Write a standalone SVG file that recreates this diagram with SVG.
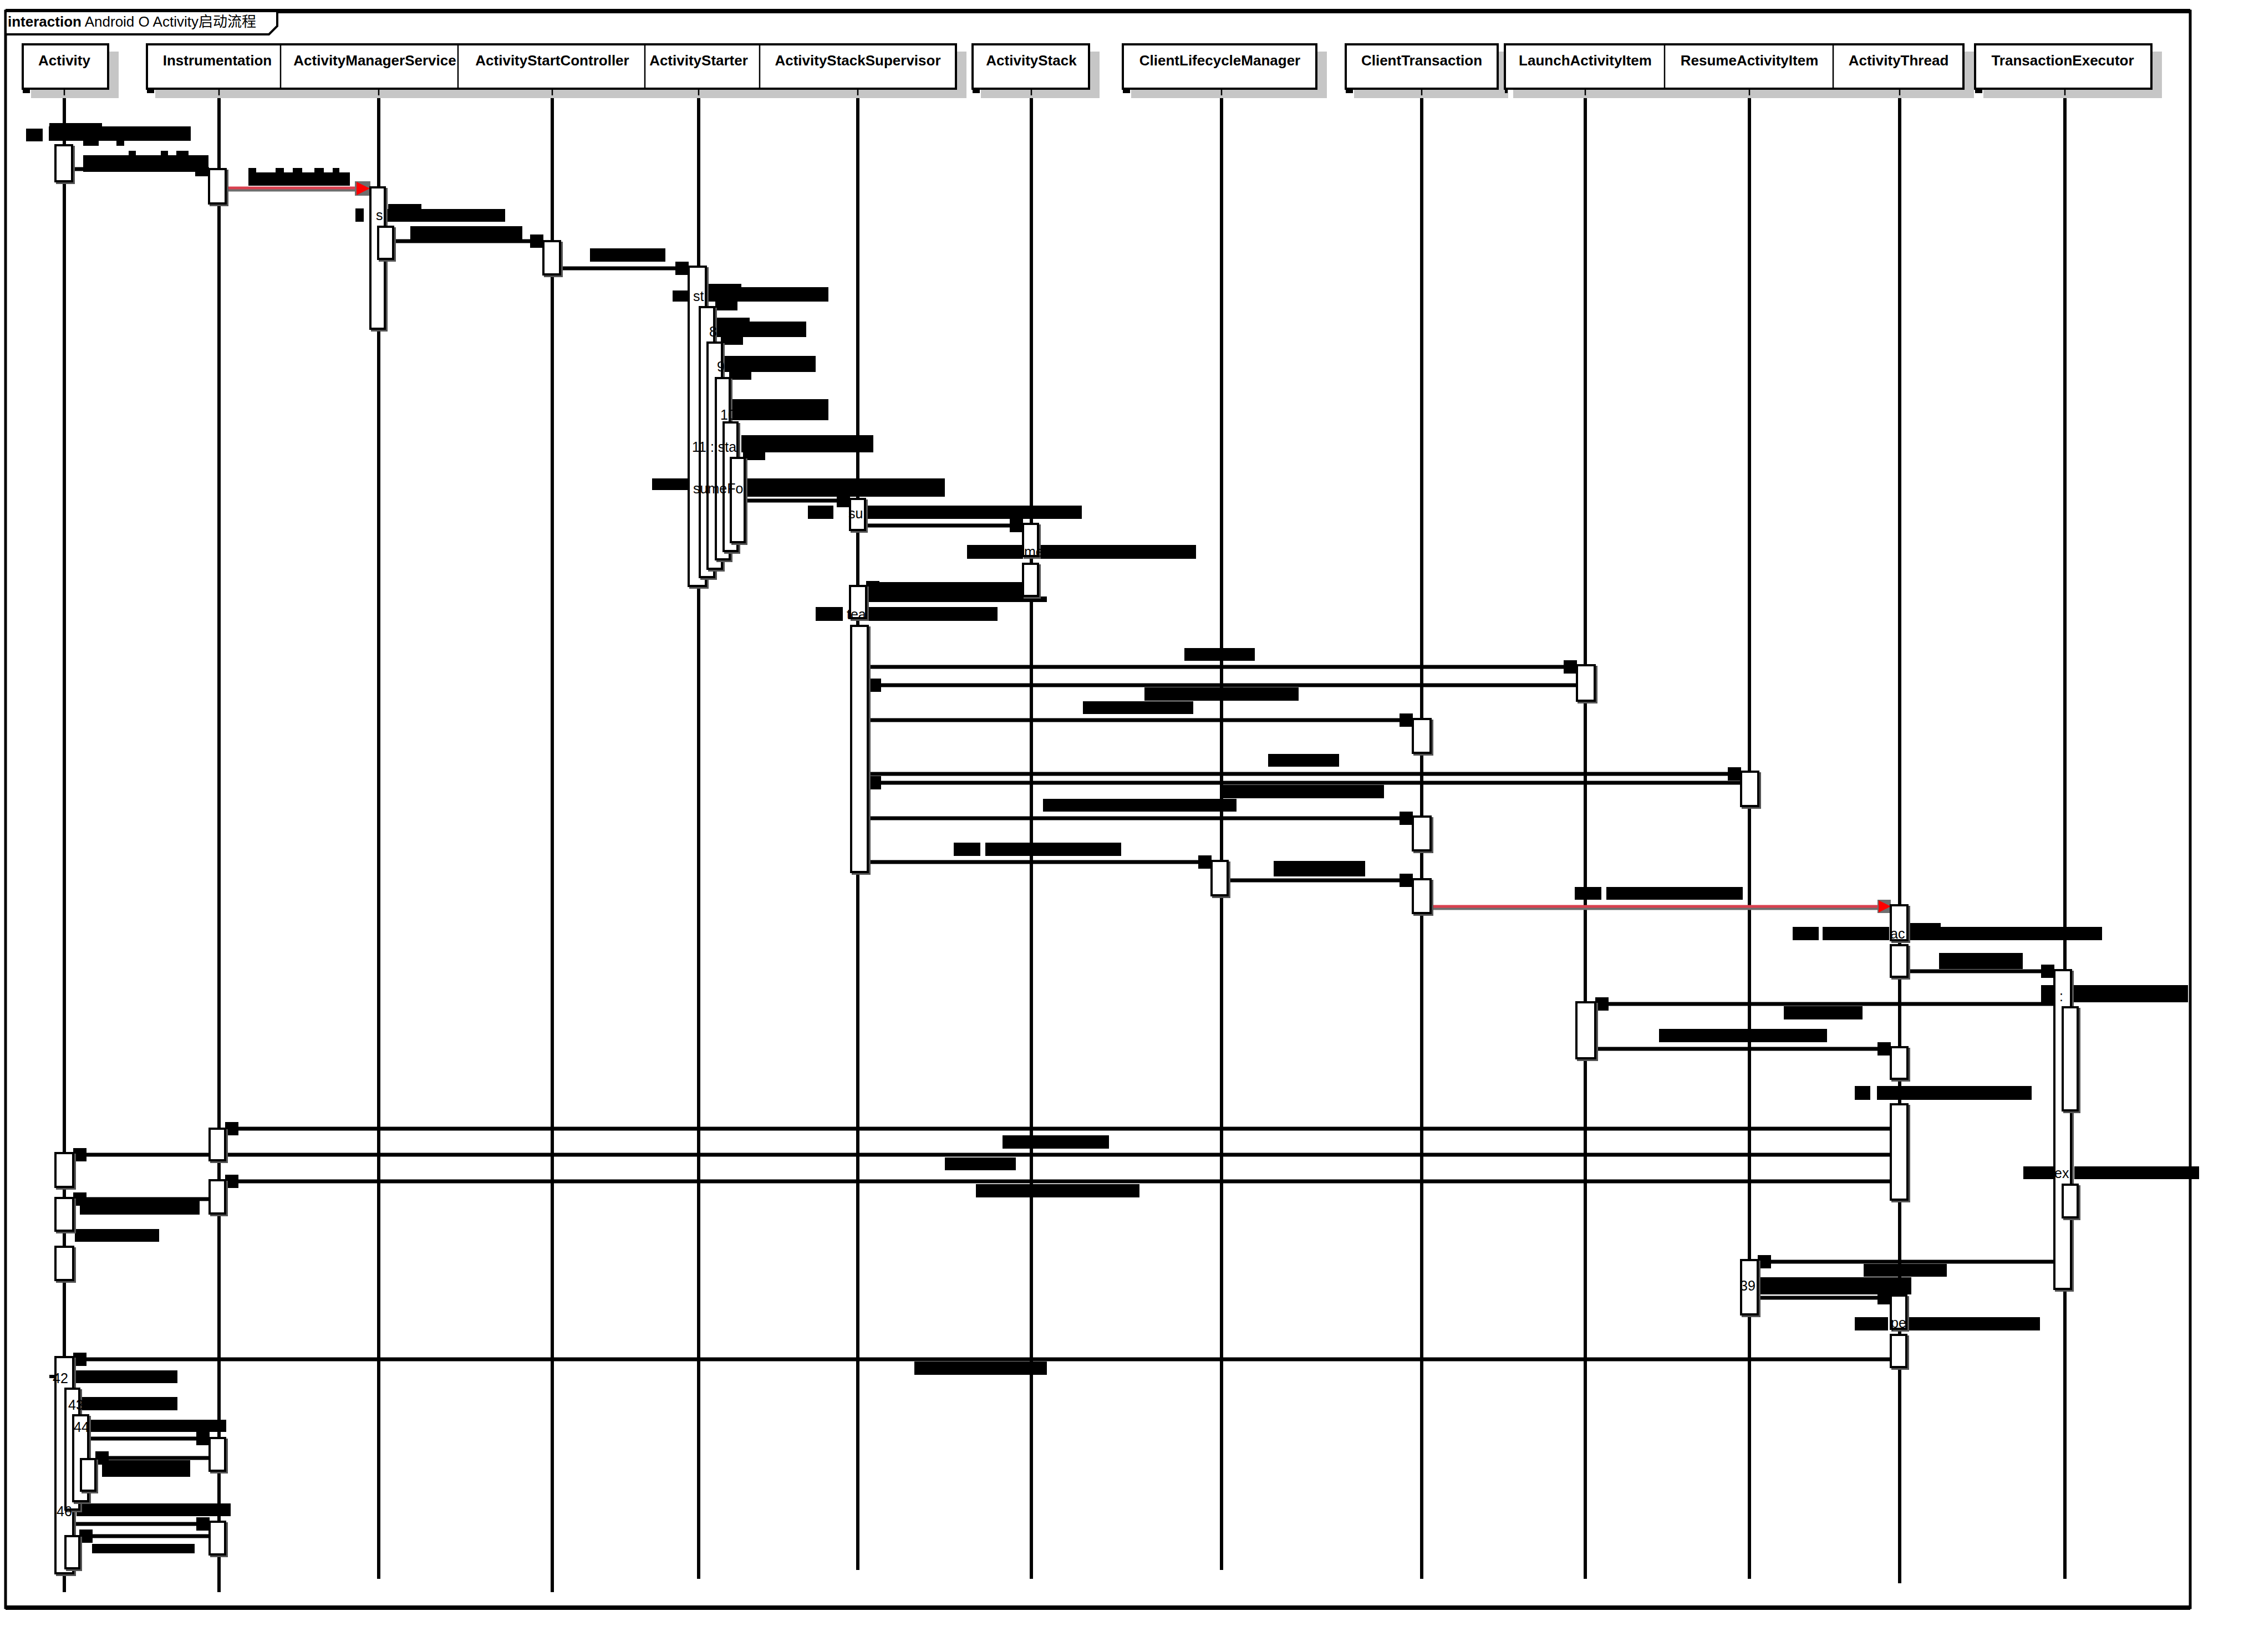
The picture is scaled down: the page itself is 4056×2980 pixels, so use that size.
<svg xmlns="http://www.w3.org/2000/svg" width="4056" height="2980" viewBox="0 0 4056 2980">
<style>
.frame{fill:none;stroke:#000;stroke-width:5}
.hdr{fill:#fff;stroke:#000;stroke-width:4}
.shd{fill:#c6c6c6}
.dv{stroke:#000;stroke-width:2.5}
.ht{font-family:"Liberation Sans",Arial,sans-serif;font-weight:bold;font-size:26px;text-anchor:middle;fill:#000}
.ll{stroke:#000;stroke-width:6}
.tick{stroke:#000;stroke-width:2.5}
.msg{stroke:#000;stroke-width:7}
.red{stroke:#d9404f;stroke-width:5}
.redsh{stroke:#6e6e6e;stroke-width:5}
.ah,.blk,.corner{fill:#000}
.act{fill:#fff;stroke:#000;stroke-width:4;filter:drop-shadow(3px 3px 0 #555)}
.lt{font-family:"Liberation Sans",Arial,sans-serif;font-size:25px;fill:#000}
</style>
<rect width="4056" height="2980" fill="#fff"/>
<g id="frame">
<rect class="frame" x="10" y="20" width="3940" height="2880"/>
<line x1="10" y1="20" x2="3950" y2="20" stroke="#000" stroke-width="8"/>
<line x1="10" y1="2900" x2="3950" y2="2900" stroke="#000" stroke-width="8"/>
<polygon points="10,20 500,20 500,47 485,62 10,62" fill="#fff" stroke="#000" stroke-width="4"/>
<text x="14" y="48" font-family="Liberation Sans, Noto Sans CJK SC, sans-serif" font-size="26"><tspan font-weight="bold">interaction</tspan> Android O Activity启动流程</text>
</g>
<g id="headers">
<rect class="shd" x="56" y="93" width="158" height="84"/>
<rect class="shd" x="280" y="93" width="1463" height="84"/>
<rect class="shd" x="1769" y="93" width="214" height="84"/>
<rect class="shd" x="2040" y="93" width="353" height="84"/>
<rect class="shd" x="2442" y="93" width="278" height="84"/>
<rect class="shd" x="2729" y="93" width="831" height="84"/>
<rect class="shd" x="3577" y="93" width="322" height="84"/>
<rect class="hdr" x="41" y="80" width="154" height="80"/>
<rect class="hdr" x="265" y="80" width="1459" height="80"/>
<line class="dv" x1="506" y1="80" x2="506" y2="160"/>
<line class="dv" x1="826" y1="80" x2="826" y2="160"/>
<line class="dv" x1="1163" y1="80" x2="1163" y2="160"/>
<line class="dv" x1="1370" y1="80" x2="1370" y2="160"/>
<rect class="hdr" x="1754" y="80" width="210" height="80"/>
<rect class="hdr" x="2025" y="80" width="349" height="80"/>
<rect class="hdr" x="2427" y="80" width="274" height="80"/>
<rect class="hdr" x="2714" y="80" width="827" height="80"/>
<line class="dv" x1="3002" y1="80" x2="3002" y2="160"/>
<line class="dv" x1="3306" y1="80" x2="3306" y2="160"/>
<rect class="hdr" x="3562" y="80" width="318" height="80"/>
<rect class="corner" x="41" y="160" width="13" height="8"/>
<rect class="corner" x="265" y="160" width="13" height="8"/>
<rect class="corner" x="1754" y="160" width="13" height="8"/>
<rect class="corner" x="2025" y="160" width="13" height="8"/>
<rect class="corner" x="2427" y="160" width="13" height="8"/>
<rect class="corner" x="2714" y="160" width="5" height="8"/>
<rect class="corner" x="3562" y="160" width="13" height="8"/>
</g>
<g id="n_activity"><text class="ht" x="116" y="118">Activity</text><line class="tick" x1="116" y1="162" x2="116" y2="172"/><line class="ll" x1="116" y1="177" x2="116" y2="2872"/></g>
<g id="n_instrumentation"><text class="ht" x="392" y="118">Instrumentation</text><line class="tick" x1="395" y1="162" x2="395" y2="172"/><line class="ll" x1="395" y1="177" x2="395" y2="2872"/></g>
<g id="n_ams"><text class="ht" x="676" y="118">ActivityManagerService</text><line class="tick" x1="683" y1="162" x2="683" y2="172"/><line class="ll" x1="683" y1="177" x2="683" y2="2848"/></g>
<g id="n_asc"><text class="ht" x="996" y="118">ActivityStartController</text><line class="tick" x1="996" y1="162" x2="996" y2="172"/><line class="ll" x1="996" y1="177" x2="996" y2="2872"/></g>
<g id="n_starter"><text class="ht" x="1260" y="118">ActivityStarter</text><line class="tick" x1="1260" y1="162" x2="1260" y2="172"/><line class="ll" x1="1260" y1="177" x2="1260" y2="2848"/></g>
<g id="n_ass"><text class="ht" x="1547" y="118">ActivityStackSupervisor</text><line class="tick" x1="1547" y1="162" x2="1547" y2="172"/><line class="ll" x1="1547" y1="177" x2="1547" y2="2832"/></g>
<g id="n_as"><text class="ht" x="1860" y="118">ActivityStack</text><line class="tick" x1="1860" y1="162" x2="1860" y2="172"/><line class="ll" x1="1860" y1="177" x2="1860" y2="2848"/></g>
<g id="n_clm"><text class="ht" x="2200" y="118">ClientLifecycleManager</text><line class="tick" x1="2203" y1="162" x2="2203" y2="172"/><line class="ll" x1="2203" y1="177" x2="2203" y2="2832"/></g>
<g id="n_ct"><text class="ht" x="2564" y="118">ClientTransaction</text><line class="tick" x1="2564" y1="162" x2="2564" y2="172"/><line class="ll" x1="2564" y1="177" x2="2564" y2="2848"/></g>
<g id="n_lai"><text class="ht" x="2859" y="118">LaunchActivityItem</text><line class="tick" x1="2859" y1="162" x2="2859" y2="172"/><line class="ll" x1="2859" y1="177" x2="2859" y2="2848"/></g>
<g id="n_rai"><text class="ht" x="3155" y="118">ResumeActivityItem</text><line class="tick" x1="3155" y1="162" x2="3155" y2="172"/><line class="ll" x1="3155" y1="177" x2="3155" y2="2848"/></g>
<g id="n_at"><text class="ht" x="3424" y="118">ActivityThread</text><line class="tick" x1="3426" y1="162" x2="3426" y2="172"/><line class="ll" x1="3426" y1="177" x2="3426" y2="2856"/></g>
<g id="n_te"><text class="ht" x="3720" y="118">TransactionExecutor</text><line class="tick" x1="3724" y1="162" x2="3724" y2="172"/><line class="ll" x1="3724" y1="177" x2="3724" y2="2848"/></g>
<g id="connectors">
<line class="msg" x1="130" y1="305" x2="377" y2="305"/>
<line class="redsh" x1="407" y1="343" x2="645" y2="343"/>
<line class="red" x1="407" y1="339" x2="645" y2="339"/>
<rect x="640" y="327" width="28" height="26" fill="#6e6e6e"/>
<polygon points="643,328 667,340 643,352" fill="#f00"/>
<line class="msg" x1="709" y1="435" x2="980" y2="435"/><rect class="ah" x="956" y="423" width="24" height="24"/>
<line class="msg" x1="1010" y1="484" x2="1242" y2="484"/><rect class="ah" x="1218" y="472" width="24" height="24"/>
<line class="msg" x1="1343" y1="903" x2="1533" y2="903"/><rect class="ah" x="1509" y="891" width="24" height="24"/>
<line class="msg" x1="1560" y1="948" x2="1845" y2="948"/><rect class="ah" x="1821" y="936" width="24" height="24"/>
<line class="msg" x1="1562" y1="1060" x2="1845" y2="1060"/><rect class="ah" x="1562" y="1048" width="24" height="24"/>
<line class="msg" x1="1565" y1="1203" x2="2844" y2="1203"/><rect class="ah" x="2820" y="1191" width="24" height="24"/>
<line class="msg" x1="1565" y1="1236" x2="2844" y2="1236"/><rect class="ah" x="1565" y="1224" width="24" height="24"/>
<line class="msg" x1="1565" y1="1299" x2="2548" y2="1299"/><rect class="ah" x="2524" y="1287" width="24" height="24"/>
<line class="msg" x1="1565" y1="1396" x2="3140" y2="1396"/><rect class="ah" x="3116" y="1384" width="24" height="24"/>
<line class="msg" x1="1565" y1="1412" x2="3140" y2="1412"/><rect class="ah" x="1565" y="1400" width="24" height="24"/>
<line class="msg" x1="1565" y1="1476" x2="2548" y2="1476"/><rect class="ah" x="2524" y="1464" width="24" height="24"/>
<line class="msg" x1="1565" y1="1555" x2="2185" y2="1555"/><rect class="ah" x="2161" y="1543" width="24" height="24"/>
<line class="msg" x1="2214" y1="1588" x2="2548" y2="1588"/><rect class="ah" x="2524" y="1576" width="24" height="24"/>
<line class="redsh" x1="2580" y1="1639" x2="3392" y2="1639"/>
<line class="red" x1="2580" y1="1635" x2="3392" y2="1635"/>
<rect x="3386" y="1623" width="24" height="24" fill="#6e6e6e"/>
<polygon points="3388,1624 3410,1635 3388,1646" fill="#f00"/>
<line class="msg" x1="3440" y1="1752" x2="3705" y2="1752"/><rect class="ah" x="3681" y="1740" width="24" height="24"/>
<line class="msg" x1="2877" y1="1811" x2="3705" y2="1811"/><rect class="ah" x="2877" y="1799" width="24" height="24"/>
<line class="msg" x1="2877" y1="1892" x2="3410" y2="1892"/><rect class="ah" x="3386" y="1880" width="24" height="24"/>
<line class="msg" x1="406" y1="2036" x2="3410" y2="2036"/><rect class="ah" x="406" y="2024" width="24" height="24"/>
<line class="msg" x1="132" y1="2083" x2="3410" y2="2083"/><rect class="ah" x="132" y="2071" width="24" height="24"/>
<line class="msg" x1="406" y1="2131" x2="3410" y2="2131"/><rect class="ah" x="406" y="2119" width="24" height="24"/>
<line class="msg" x1="132" y1="2163" x2="378" y2="2163"/><rect class="ah" x="132" y="2151" width="24" height="24"/>
<line class="msg" x1="3170" y1="2276" x2="3705" y2="2276"/><rect class="ah" x="3170" y="2264" width="24" height="24"/>
<line class="msg" x1="3170" y1="2341" x2="3410" y2="2341"/><rect class="ah" x="3386" y="2329" width="24" height="24"/>
<line class="msg" x1="132" y1="2452" x2="3410" y2="2452"/><rect class="ah" x="132" y="2440" width="24" height="24"/>
<line class="msg" x1="159" y1="2595" x2="378" y2="2595"/><rect class="ah" x="354" y="2583" width="24" height="24"/>
<line class="msg" x1="172" y1="2630" x2="378" y2="2630"/><rect class="ah" x="172" y="2618" width="24" height="24"/>
<line class="msg" x1="132" y1="2749" x2="378" y2="2749"/><rect class="ah" x="354" y="2737" width="24" height="24"/>
<line class="msg" x1="143" y1="2771" x2="378" y2="2771"/><rect class="ah" x="143" y="2759" width="24" height="24"/>
<g id="labels">
<rect class="blk" x="89" y="222" width="95" height="10"/><rect class="blk" x="47" y="232" width="30" height="23"/><rect class="blk" x="88" y="228" width="256" height="26"/><rect class="blk" x="150" y="254" width="28" height="9"/><rect class="blk" x="210" y="254" width="14" height="9"/>
<rect class="blk" x="232" y="272" width="13" height="9"/><rect class="blk" x="290" y="272" width="13" height="9"/><rect class="blk" x="318" y="272" width="22" height="9"/><rect class="blk" x="150" y="280" width="226" height="30"/><rect class="blk" x="352" y="310" width="24" height="8"/>
<rect class="blk" x="448" y="303" width="14" height="9"/><rect class="blk" x="497" y="303" width="15" height="9"/><rect class="blk" x="528" y="303" width="17" height="9"/><rect class="blk" x="567" y="303" width="17" height="9"/><rect class="blk" x="600" y="303" width="12" height="9"/><rect class="blk" x="448" y="311" width="183" height="24"/>
<rect class="blk" x="641" y="376" width="15" height="24"/><rect class="blk" x="700" y="368" width="60" height="10"/><rect class="blk" x="694" y="377" width="217" height="23"/>
<rect class="blk" x="740" y="408" width="202" height="24"/>
<rect class="blk" x="1064" y="448" width="136" height="24"/>
<rect class="blk" x="1213" y="524" width="29" height="20"/><rect class="blk" x="1273" y="512" width="64" height="10"/><rect class="blk" x="1273" y="518" width="221" height="26"/><rect class="blk" x="1290" y="544" width="40" height="16"/>
<rect class="blk" x="1290" y="573" width="62" height="10"/><rect class="blk" x="1290" y="580" width="164" height="28"/><rect class="blk" x="1300" y="608" width="40" height="14"/>
<rect class="blk" x="1304" y="642" width="167" height="29"/><rect class="blk" x="1315" y="671" width="40" height="14"/>
<rect class="blk" x="1318" y="720" width="176" height="38"/>
<rect class="blk" x="1337" y="785" width="238" height="31"/><rect class="blk" x="1340" y="816" width="40" height="14"/>
<rect class="blk" x="1176" y="863" width="66" height="21"/><rect class="blk" x="1342" y="863" width="362" height="33"/>
<rect class="blk" x="1457" y="912" width="46" height="24"/><rect class="blk" x="1560" y="912" width="391" height="24"/>
<rect class="blk" x="1744" y="983" width="101" height="25"/><rect class="blk" x="1872" y="983" width="285" height="25"/>
<rect class="blk" x="1563" y="1050" width="282" height="36"/><rect class="blk" x="1845" y="1076" width="43" height="10"/>
<rect class="blk" x="1471" y="1095" width="49" height="25"/><rect class="blk" x="1560" y="1095" width="239" height="25"/>
<rect class="blk" x="2136" y="1169" width="127" height="23"/>
<rect class="blk" x="2064" y="1240" width="278" height="24"/>
<rect class="blk" x="1953" y="1265" width="199" height="23"/>
<rect class="blk" x="2287" y="1360" width="128" height="23"/>
<rect class="blk" x="2201" y="1416" width="295" height="24"/>
<rect class="blk" x="1881" y="1441" width="349" height="23"/>
<rect class="blk" x="1720" y="1520" width="48" height="24"/><rect class="blk" x="1777" y="1520" width="245" height="24"/>
<rect class="blk" x="2297" y="1553" width="165" height="28"/>
<rect class="blk" x="2840" y="1600" width="48" height="23"/><rect class="blk" x="2897" y="1600" width="246" height="23"/>
<rect class="blk" x="3233" y="1672" width="47" height="24"/><rect class="blk" x="3287" y="1672" width="120" height="24"/><rect class="blk" x="3440" y="1665" width="60" height="8"/><rect class="blk" x="3440" y="1672" width="351" height="24"/>
<rect class="blk" x="3497" y="1719" width="151" height="29"/>
<rect class="blk" x="3681" y="1777" width="28" height="31"/><rect class="blk" x="3733" y="1777" width="213" height="31"/>
<rect class="blk" x="3217" y="1815" width="142" height="24"/>
<rect class="blk" x="2992" y="1856" width="303" height="24"/>
<rect class="blk" x="3345" y="1959" width="28" height="25"/><rect class="blk" x="3385" y="1959" width="279" height="25"/>
<rect class="blk" x="1808" y="2048" width="192" height="24"/>
<rect class="blk" x="1704" y="2088" width="128" height="23"/>
<rect class="blk" x="1760" y="2136" width="295" height="24"/>
<rect class="blk" x="144" y="2165" width="216" height="26"/>
<rect class="blk" x="135" y="2217" width="152" height="23"/>
<rect class="blk" x="3649" y="2104" width="56" height="23"/><rect class="blk" x="3741" y="2104" width="225" height="23"/>
<rect class="blk" x="3361" y="2280" width="150" height="23"/>
<rect class="blk" x="3174" y="2304" width="273" height="31"/>
<rect class="blk" x="3345" y="2376" width="60" height="24"/><rect class="blk" x="3438" y="2376" width="241" height="24"/>
<rect class="blk" x="1649" y="2456" width="239" height="24"/>
<rect class="blk" x="89" y="2480" width="11" height="6"/><rect class="blk" x="132" y="2472" width="188" height="23"/>
<rect class="blk" x="148" y="2520" width="172" height="24"/>
<rect class="blk" x="161" y="2561" width="247" height="22"/>
<rect class="blk" x="184" y="2634" width="159" height="30"/>
<rect class="blk" x="138" y="2712" width="278" height="23"/>
<rect class="blk" x="166" y="2785" width="185" height="17"/>
</g>
</g>
<g id="activations">
<rect class="act" x="100" y="262" width="30" height="65"/>
<rect class="act" x="377" y="305" width="30" height="62"/>
<rect class="act" x="668" y="338" width="26" height="255"/>
<rect class="act" x="682" y="409" width="27" height="58"/>
<rect class="act" x="980" y="435" width="30" height="60"/>
<rect class="act" x="1242" y="481" width="31" height="576"/>
<rect class="act" x="1262" y="554" width="26" height="487"/>
<rect class="act" x="1276" y="618" width="26" height="408"/>
<rect class="act" x="1291" y="682" width="25" height="327"/>
<rect class="act" x="1305" y="762" width="25" height="232"/>
<rect class="act" x="1318" y="826" width="25" height="152"/>
<rect class="act" x="1533" y="900" width="27" height="56"/>
<rect class="act" x="1533" y="1057" width="29" height="58"/>
<rect class="act" x="1535" y="1129" width="30" height="444"/>
<rect class="act" x="1845" y="945" width="27" height="58"/>
<rect class="act" x="1845" y="1017" width="27" height="58"/>
<rect class="act" x="2844" y="1200" width="32" height="64"/>
<rect class="act" x="2548" y="1297" width="32" height="61"/>
<rect class="act" x="3140" y="1392" width="31" height="62"/>
<rect class="act" x="2548" y="1473" width="32" height="61"/>
<rect class="act" x="2185" y="1553" width="29" height="62"/>
<rect class="act" x="2548" y="1586" width="32" height="61"/>
<rect class="act" x="3410" y="1633" width="30" height="63"/>
<rect class="act" x="3410" y="1705" width="30" height="57"/>
<rect class="act" x="3705" y="1750" width="30" height="575"/>
<rect class="act" x="3720" y="1817" width="27" height="186"/>
<rect class="act" x="3720" y="2137" width="27" height="59"/>
<rect class="act" x="2843" y="1808" width="34" height="101"/>
<rect class="act" x="3410" y="1889" width="30" height="57"/>
<rect class="act" x="3410" y="1992" width="30" height="172"/>
<rect class="act" x="3140" y="2273" width="30" height="98"/>
<rect class="act" x="3410" y="2337" width="28" height="60"/>
<rect class="act" x="3410" y="2408" width="28" height="58"/>
<rect class="act" x="378" y="2036" width="28" height="57"/>
<rect class="act" x="378" y="2129" width="28" height="60"/>
<rect class="act" x="100" y="2080" width="32" height="61"/>
<rect class="act" x="100" y="2161" width="32" height="59"/>
<rect class="act" x="100" y="2249" width="32" height="60"/>
<rect class="act" x="100" y="2448" width="32" height="390"/>
<rect class="act" x="118" y="2505" width="25" height="218"/>
<rect class="act" x="132" y="2553" width="27" height="155"/>
<rect class="act" x="146" y="2632" width="26" height="57"/>
<rect class="act" x="118" y="2771" width="25" height="58"/>
<rect class="act" x="378" y="2594" width="28" height="59"/>
<rect class="act" x="378" y="2745" width="28" height="59"/>
</g>
<g id="label-text" class="lt">
<text x="678" y="397">s</text>
<text x="1250" y="543">st</text>
<text x="1279" y="607">8</text>
<text x="1293" y="670">9</text>
<text x="1299" y="757">10</text>
<text x="1248" y="815">11 : sta</text>
<text x="1250" y="890">sumeFo</text>
<text x="1530" y="935">su</text>
<text x="1847" y="1004">me</text>
<text x="1527" y="1117">tea</text>
<text x="3409" y="1693">ac</text>
<text x="3714" y="1806">:</text>
<text x="3705" y="2125">ex</text>
<text x="3138" y="2328">39</text>
<text x="3410" y="2395">pe</text>
<text x="95" y="2495">42</text>
<text x="123" y="2543">43</text>
<text x="133" y="2583">44</text>
<text x="102" y="2735">46</text>
</g>
</svg>
